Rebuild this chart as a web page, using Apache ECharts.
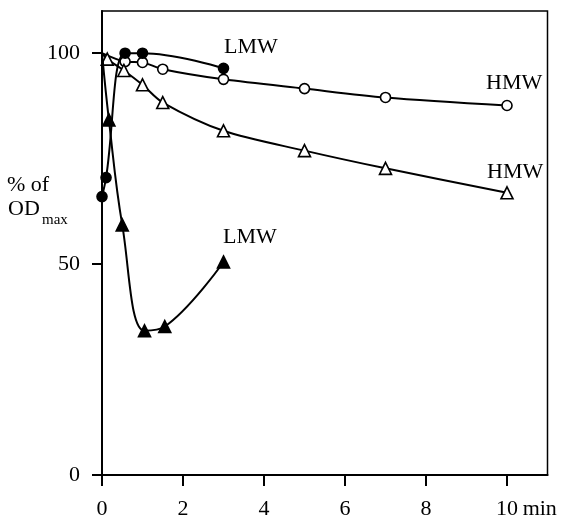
<!DOCTYPE html>
<html>
<head>
<meta charset="utf-8">
<script src="https://cdn.jsdelivr.net/npm/echarts@6/dist/echarts.min.js"></script>
<style>html,body{margin:0;padding:0;background:#fff;}#c{width:563px;height:522px;}</style>
</head>
<body>
<div id="c"></div>
<script>
// ---- data ----
const xTicks = [0, 2, 4, 6, 8, 10];
const yTicks = [0, 50, 100];
const lineOrigin = [0, 100];           // curves start at 100 % at time 0 (no marker)

const lmwCircX = [0, 0.1, 0.57, 1.0, 3.0];
const lmwCircY = [66, 70.5, 100, 100, 96.4];

const hmwCircX = [0.57, 1.0, 1.5, 3.0, 5.0, 7.0, 10.0];
const hmwCircY = [98.0, 97.8, 96.2, 93.8, 91.6, 89.5, 87.6];

const hmwTriX = [0.13, 0.54, 1.0, 1.5, 3.0, 5.0, 7.0, 10.0];
const hmwTriY = [98.6, 95.9, 92.5, 88.3, 81.6, 76.9, 72.7, 66.9];

const lmwTriX = [0.17, 0.5, 1.05, 1.55, 3.0];
const lmwTriY = [84.2, 59.3, 34.2, 35.2, 50.5];

const FONT = "'Liberation Serif','Times New Roman',serif";

function pts(xs, ys, withOrigin) {
  const d = xs.map((x, i) => [x, ys[i]]);
  if (withOrigin) d.unshift({ value: lineOrigin.slice(), symbol: 'none' });
  return d;
}

const chart = echarts.init(document.getElementById('c'), null, { renderer: 'canvas' });

function mk(name, data, symbol, size, filled, smooth) {
  return {
    name, type: 'line', data, symbol, symbolSize: size, smooth,
    showAllSymbol: true,
    lineStyle: { color: '#000', width: 2 },
    itemStyle: { color: filled ? '#000' : '#fff', borderColor: '#000', borderWidth: 1.6 },
    emphasis: { disabled: true },
    z: filled ? 3 : 2
  };
}

chart.setOption({
  animation: false,
  backgroundColor: '#fff',
  grid: { left: 102, right: 15.5, top: 11, bottom: 47, show: true, borderColor: '#000', borderWidth: 1.5, containLabel: false },
  xAxis: {
    type: 'value', min: 0, max: 11,
    axisLine: { lineStyle: { color: '#000', width: 2 } },
    axisTick: { show: true, length: 11, lineStyle: { color: '#000', width: 2 }, customValues: xTicks },
    axisLabel: {
      customValues: xTicks, margin: 23, color: '#000', fontFamily: FONT, fontSize: 22,
      formatter: v => v === 10 ? '{h|}{n|10}{m| min}' : String(v),
      rich: { h: { width: 38, fontSize: 22, fontFamily: FONT }, n: { fontSize: 22, fontFamily: FONT, color: '#000' }, m: { width: 38, fontSize: 22, fontFamily: FONT, color: '#000' } }
    },
    splitLine: { show: false }
  },
  yAxis: {
    type: 'value', min: 0, max: 110,
    axisLine: { lineStyle: { color: '#000', width: 2 } },
    axisTick: { show: true, length: 10, lineStyle: { color: '#000', width: 2 }, customValues: yTicks },
    axisLabel: { customValues: yTicks, margin: 22, color: '#000', fontFamily: FONT, fontSize: 22 },
    splitLine: { show: false }
  },
  series: [
    mk('HMW circles', pts(hmwCircX, hmwCircY, true), 'circle', 10, false, 0.3),
    mk('HMW triangles', pts(hmwTriX, hmwTriY, true), 'triangle', 12, false, 0.3),
    mk('LMW triangles', pts(lmwTriX, lmwTriY, true), 'triangle', 12, true, 0.4),
    mk('LMW circles', pts(lmwCircX, lmwCircY, false), 'circle', 10, true, 0.4)
  ],
  graphic: [
    { type: 'text', left: 224, top: 36, style: { text: 'LMW', font: `22px ${FONT}`, fill: '#000' } },
    { type: 'text', left: 486, top: 72, style: { text: 'HMW', font: `22px ${FONT}`, fill: '#000' } },
    { type: 'text', left: 487, top: 161, style: { text: 'HMW', font: `22px ${FONT}`, fill: '#000' } },
    { type: 'text', left: 223, top: 226, style: { text: 'LMW', font: `22px ${FONT}`, fill: '#000' } },
    { type: 'text', left: 7, top: 174, style: { text: '% of', font: `22px ${FONT}`, fill: '#000' } },
    { type: 'text', left: 8, top: 198, style: { text: 'OD', font: `22px ${FONT}`, fill: '#000' } },
    { type: 'text', left: 42, top: 213, style: { text: 'max', font: `15px ${FONT}`, fill: '#000' } }
  ]
});
</script>
</body>
</html>
